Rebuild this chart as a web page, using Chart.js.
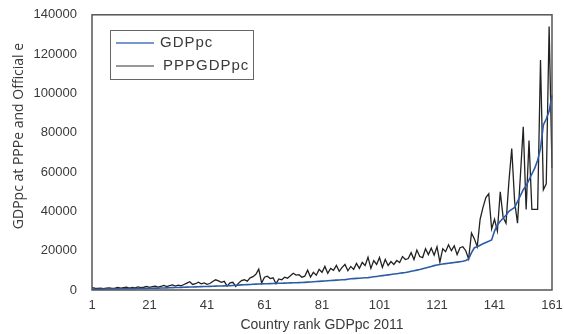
<!DOCTYPE html>
<html>
<head>
<meta charset="utf-8">
<script src="https://cdn.jsdelivr.net/npm/chart.js@4/dist/chart.umd.min.js"></script>
<style>
  html, body { margin: 0; padding: 0; background: #fff; }
  canvas { display: block; }
</style>
</head>
<body>
<canvas id="chart" width="564" height="334"></canvas>
<script>
// Country rank by GDP per capita, 2011
const ranks = Array.from({ length: 161 }, (_, i) => String(i + 1));
const xTickLabels = ['1', '21', '41', '61', '81', '101', '121', '141', '161'];
const seriesNames = ['GDPpc', 'PPPGDPpc'];

// GDP per capita at official exchange rates
const gdpPc = [
  300, 350, 400, 420, 450, 480, 500, 520, 550, 580,
  600, 620, 650, 680, 700, 720, 750, 780, 800, 830,
  860, 900, 930, 960, 1000, 1050, 1100, 1150, 1200, 1250,
  1300, 1350, 1400, 1450, 1500, 1550, 1600, 1650, 1700, 1750,
  1800, 1850, 1900, 1950, 2000, 2050, 2100, 2150, 2200, 2300,
  2400, 2500, 2600, 2700, 2750, 2800, 2900, 3000, 3050, 3100,
  3150, 3200, 3250, 3300, 3350, 3400, 3450, 3500, 3550, 3600,
  3650, 3700, 3750, 3800, 3900, 4000, 4100, 4200, 4300, 4400,
  4500, 4600, 4700, 4800, 4900, 5000, 5100, 5200, 5300, 5500,
  5700, 5800, 5900, 6000, 6100, 6200, 6300, 6500, 6700, 6900,
  7100, 7300, 7500, 7700, 7900, 8100, 8300, 8500, 8700, 8900,
  9200, 9500, 9800, 10100, 10400, 10800, 11200, 11600, 12000, 12400,
  12700, 13000, 13200, 13400, 13600, 13800, 14000, 14200, 14400, 14600,
  15000, 15800, 19000, 21500, 22000, 22800, 23500, 24200, 24800, 25500,
  30000, 33000, 35000, 36500, 38000, 40000, 41000, 42000, 45000, 48000,
  51000, 53000, 56000, 59000, 62000, 66000, 72000, 84000, 87000, 91000,
  99000
];

// GDP per capita at purchasing power parity
const pppGdpPc = [
  1200, 900, 800, 1000, 700, 900, 1100, 800, 1000, 1300,
  900, 1200, 1500, 1000, 1300, 1100, 1600, 1200, 1400, 1800,
  1300, 1700, 2000, 1500, 1900, 2300, 1700, 2200, 2600, 2000,
  2500, 2100, 2800, 3500, 4200, 2800, 3200, 4000, 3100, 3600,
  2900, 3300, 4300, 5200, 4600, 3900, 4400, 2000, 3600, 3900,
  1800, 3500, 4800, 5200, 4500, 6200, 6800, 8000, 10600, 3600,
  6500, 7000, 5800, 6200, 3200, 5600, 5200, 6500, 6000, 7200,
  8500, 7600, 7800, 6500, 7000, 10100, 6600, 9000, 7500, 10500,
  9000, 12000, 8500, 11000, 10000, 12500, 9500, 11500, 13000, 9800,
  12000, 10500, 13500, 11000, 14000, 12500, 16700, 11000, 15000, 13000,
  16500, 11500, 15500, 12500, 14500, 13000, 15000, 14000, 17000, 15500,
  16000, 19000, 15500, 20300, 17000, 16500, 21000, 18000, 21300, 17700,
  22000, 14200, 21000, 19500, 23000, 20000, 22500, 18000, 21500, 22000,
  20000, 15800, 29000, 26000, 22000, 36000, 42000, 47000, 49000, 31000,
  36000, 30000, 50000, 37000, 34000, 55000, 72000, 45000, 34000, 58000,
  83000, 41000, 76000, 41000, 41000, 41000, 117000, 51000, 54000, 134000,
  62000
];

const yAxisTitle = 'GDPpc at PPPe and Official e';
const xAxisTitle = 'Country rank GDPpc 2011';

const textColor = '#3a3a3a';
const frameColor = '#555555';

// Draws the plot frame, the inset legend and the rotated y-axis title
const decorations = {
  id: 'decorations',
  afterDraw(chart) {
    const { ctx, chartArea: a } = chart;
    ctx.save();
    ctx.strokeStyle = frameColor;
    ctx.lineWidth = 1.5;
    ctx.strokeRect(a.left, a.top, a.right - a.left, a.bottom - a.top);

    // legend box
    const bx = 110, by = 30, bw = 143, bh = 49;
    ctx.fillStyle = '#fff';
    ctx.fillRect(bx, by, bw, bh);
    ctx.strokeStyle = '#666';
    ctx.lineWidth = 1;
    ctx.strokeRect(bx + 0.5, by + 0.5, bw, bh);
    ctx.font = '15px "Liberation Sans", Arial, sans-serif';
    ctx.textBaseline = 'middle';
    ctx.letterSpacing = '1px';
    chart.data.datasets.forEach((ds, i) => {
      const y = by + 13 + i * 23;
      ctx.strokeStyle = ds.legendColor;
      ctx.lineWidth = 1.5;
      ctx.beginPath();
      ctx.moveTo(bx + 6, y);
      ctx.lineTo(bx + 44, y);
      ctx.stroke();
      ctx.fillStyle = textColor;
      ctx.fillText(ds.label, bx + 50 + i * 3, y);
    });
    ctx.letterSpacing = '0px';

    // y-axis title
    ctx.translate(19, 136);
    ctx.rotate(-Math.PI / 2);
    ctx.textAlign = 'center';
    ctx.textBaseline = 'middle';
    ctx.font = '14px "Open Sans", "DejaVu Sans", sans-serif';
    ctx.fillStyle = textColor;
    ctx.fillText(yAxisTitle, 0, 0);
    ctx.restore();
  }
};

new Chart(document.getElementById('chart'), {
  type: 'line',
  data: {
    labels: ranks,
    datasets: [
      {
        label: seriesNames[0],
        data: gdpPc,
        borderColor: '#2d5ca6',
        legendColor: '#4a74bd',
        borderWidth: 1.6,
        pointRadius: 0,
        tension: 0,
        fill: false
      },
      {
        label: seriesNames[1],
        data: pppGdpPc,
        borderColor: '#222222',
        legendColor: '#777777',
        borderWidth: 1.3,
        pointRadius: 0,
        tension: 0,
        fill: false
      }
    ]
  },
  options: {
    responsive: false,
    animation: false,
    devicePixelRatio: 1,
    layout: { padding: { top: 14, right: 12, left: 0, bottom: 0 } },
    plugins: {
      legend: { display: false },
      tooltip: { enabled: false }
    },
    scales: {
      x: {
        type: 'category',
        offset: false,
        grid: { display: false },
        border: { display: false },
        ticks: {
          autoSkip: false,
          maxRotation: 0,
          padding: 0,
          color: textColor,
          font: { family: '"Liberation Sans", Arial, sans-serif', size: 13 },
          callback(value) {
            const lab = this.getLabelForValue(value);
            return xTickLabels.includes(lab) ? lab : null;
          }
        },
        title: {
          display: true,
          text: xAxisTitle,
          color: textColor,
          font: { family: '"Liberation Sans", Arial, sans-serif', size: 14 },
          padding: { top: 3, bottom: 0 }
        },
        afterFit(scale) { scale.height = 44; }
      },
      y: {
        min: 0,
        max: 140000,
        grid: { display: false },
        border: { display: false },
        ticks: {
          stepSize: 20000,
          padding: 7,
          color: textColor,
          font: { family: '"Liberation Sans", Arial, sans-serif', size: 13 },
          callback: (value) => String(value)
        },
        afterFit(scale) { scale.width = 92; }
      }
    }
  },
  plugins: [decorations]
});
</script>
</body>
</html>
